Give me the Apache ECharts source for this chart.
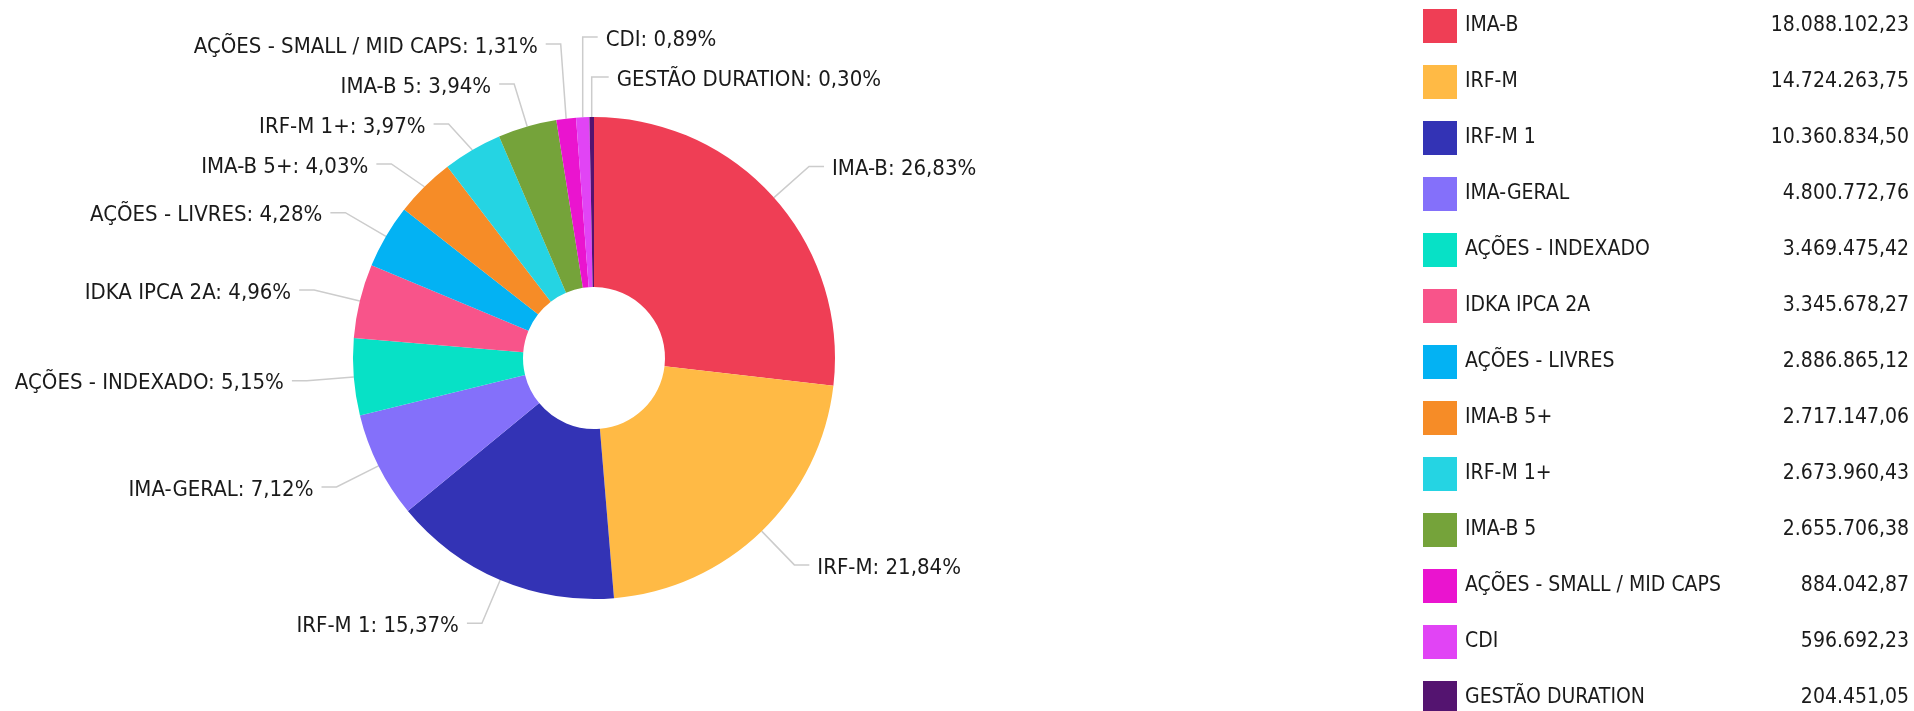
<!DOCTYPE html>
<html>
<head>
<meta charset="utf-8">
<script src="https://cdn.jsdelivr.net/npm/echarts@6/dist/echarts.min.js"></script>
<style>
  html, body { margin: 0; padding: 0; background: #fff; }
  #chart { width: 1914px; height: 711px; }
</style>
</head>
<body>
<div id="chart"></div>
<script>
// dados da carteira
var nomes = ['IMA-B', 'IRF-M', 'IRF-M 1', 'IMA-GERAL', 'AÇÕES - INDEXADO', 'IDKA IPCA 2A',
    'AÇÕES - LIVRES', 'IMA-B 5+', 'IRF-M 1+', 'IMA-B 5', 'AÇÕES - SMALL / MID CAPS', 'CDI', 'GESTÃO DURATION'];
var valores = [18088102.23, 14724263.75, 10360834.50, 4800772.76, 3469475.42, 3345678.27,
    2886865.12, 2717147.06, 2673960.43, 2655706.38, 884042.87, 596692.23, 204451.05];
var cores = ['#ef3e55', '#ffba45', '#3333b5', '#8470fa', '#07e1c6', '#f8548a',
    '#03b2f3', '#f68c27', '#25d4e3', '#75a33a', '#ea14cf', '#e144f5', '#541470'];
// fatias pequenas do topo cujo rótulo vai para a direita
var rotulosDireita = ['CDI', 'GESTÃO DURATION'];

var fonte = '"DejaVu Sans Condensed", "DejaVu Sans", sans-serif';
var total = valores.reduce(function (a, b) { return a + b; }, 0);

var cx = 594, cy = 358, raio = 241;
var L1 = 47, L2 = 15, folga = 8, passo = 40;

function formatarValor(v) {
    var partes = v.toFixed(2).split('.');
    var inteiro = partes[0].replace(/\B(?=(\d{3})+(?!\d))/g, '.');
    return inteiro + ',' + partes[1];
}

// posição vertical dos rótulos: espalha os da esquerda sem sobrepor
var info = [];
var acum = 0;
valores.forEach(function (v, i) {
    var a = (acum + v / 2) / total * 2 * Math.PI;
    acum += v;
    info.push({ i: i, dx: Math.sin(a), dy: -Math.cos(a), y0: cy - Math.cos(a) * (raio + L1) });
});
info.forEach(function (it) {
    it.lado = (rotulosDireita.indexOf(nomes[it.i]) >= 0) ? 'topo' : (it.dx < 0 ? 'esq' : 'dir');
    it.y = it.y0;
});

function distribuir(lista) {
    lista.sort(function (a, b) { return a.y0 - b.y0; });
    var grupos = [];
    lista.forEach(function (it) {
        grupos.push({ itens: [it], soma: it.y0 });
        while (grupos.length > 1) {
            var b = grupos[grupos.length - 1], a = grupos[grupos.length - 2];
            var aFim = a.soma / a.itens.length + (a.itens.length - 1) / 2 * passo;
            var bIni = b.soma / b.itens.length - (b.itens.length - 1) / 2 * passo;
            if (bIni - aFim >= passo) break;
            a.itens = a.itens.concat(b.itens);
            a.soma += b.soma;
            grupos.pop();
        }
    });
    grupos.forEach(function (g) {
        var c = g.soma / g.itens.length;
        g.itens.forEach(function (it, k) { it.y = c + (k - (g.itens.length - 1) / 2) * passo; });
    });
}
distribuir(info.filter(function (it) { return it.lado === 'esq'; }));
distribuir(info.filter(function (it) { return it.lado === 'dir'; }));
var topo = info.filter(function (it) { return it.lado === 'topo'; });
topo.forEach(function (it, k) { it.y = (cy - raio) - passo * (topo.length - k); it.k = k; });

var dados = nomes.map(function (n, i) {
    return { name: n, value: valores[i], itemStyle: { color: cores[i] } };
});

var myChart = echarts.init(document.getElementById('chart'));

var option = {
    animation: false,
    textStyle: { fontFamily: fonte },
    legend: {
        orient: 'vertical',
        left: 1418,
        top: 4,
        height: 760,
        icon: 'rect',
        itemWidth: 34,
        itemHeight: 34,
        itemGap: 22,
        selectedMode: false,
        formatter: function (name) {
            var i = nomes.indexOf(name);
            return '{n|' + name + '}{v|' + formatarValor(valores[i]) + '}';
        },
        textStyle: {
            fontFamily: fonte,
            fontSize: 21,
            color: '#1a1a1a',
            rich: {
                n: { width: 300, padding: [0, 0, 0, 3], fontSize: 21, fontFamily: fonte, color: '#1a1a1a' },
                v: { width: 144, align: 'right', fontSize: 21, fontFamily: fonte, color: '#1a1a1a' }
            }
        },
        data: nomes
    },
    series: [{
        name: 'Carteira',
        type: 'pie',
        center: [cx, cy],
        radius: [71, raio],
        startAngle: 90,
        avoidLabelOverlap: false,
        data: dados,
        label: {
            show: true,
            fontFamily: fonte,
            fontSize: 22,
            color: '#1a1a1a',
            formatter: function (p) {
                var pct = (p.value / total * 100).toFixed(2).replace('.', ',');
                return p.name + ': ' + pct + '%';
            }
        },
        labelLine: {
            show: true,
            length: L1,
            length2: L2,
            lineStyle: { color: '#cccccc', width: 1.5 }
        },
        labelLayout: function (params) {
            var pts = params.labelLinePoints;
            if (!pts) return {};
            var it = info[params.dataIndex];
            var p0 = pts[0], p1 = pts[1];
            var y = it.y;
            if (it.lado === 'topo') {
                var xFim = p0[0] + L2 + it.k * 2;
                return {
                    x: xFim + folga, y: y + 3, align: 'left', verticalAlign: 'middle',
                    labelLinePoints: [[p0[0], p0[1]], [p0[0], y], [xFim, y]]
                };
            }
            var s = it.lado === 'esq' ? -1 : 1;
            var x3 = p1[0] + s * L2;
            return {
                x: x3 + s * folga, y: y + 3,
                align: s < 0 ? 'right' : 'left', verticalAlign: 'middle',
                labelLinePoints: [[p0[0], p0[1]], [p1[0], y], [x3, y]]
            };
        },
        emphasis: { disabled: true }
    }]
};

myChart.setOption(option);
</script>
</body>
</html>
